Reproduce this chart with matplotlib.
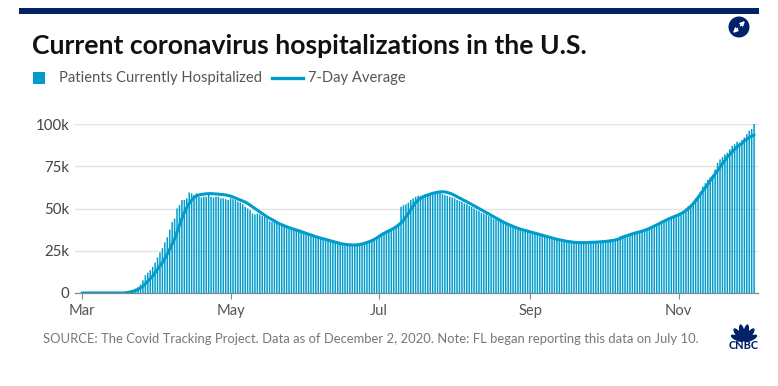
import numpy as np
import pandas as pd
import matplotlib
matplotlib.use('Agg')
import matplotlib.pyplot as plt
import matplotlib.dates as mdates
from matplotlib.patches import Circle, Ellipse, Rectangle

# patients currently hospitalized, thousands, one value per day from Mar 1
hosp_mar = [0] * 15 + [.05, .1, .2, .4, .8, 1.3, 1.9, 2.6, 3.4, 5, 7.5, 10.5, 12, 13.5, 15.5, 18]
hosp_apr = [21, 24, 26.5, 30, 33, 37.5, 42, 44, 50, 52, 55, 55, 56, 59.5, 59, 58, 59, 57, 56.5, 57,
            57, 58, 57, 56.5, 57, 57, 56, 56, 55.5, 55]
hosp_may = [56, 55.5, 55, 54, 53.5, 52.5, 51, 50, 49, 47, 46.5, 47, 46.5, 45.5, 45, 44, 42.5, 42, 42, 41.5,
            41.5, 40.5, 39.5, 38.5, 38, 37.5, 37.5, 38, 37.5, 37, 36.5]
hosp_jun = [36, 35.5, 35, 34.5, 34, 33.5, 33, 32.5, 32.5, 32, 31.5, 31, 30.5, 30.5, 30, 29.5, 29, 28.5, 28.5, 28,
            28, 28, 28.5, 29, 29.5, 30, 30.5, 31, 32, 33]
hosp_jul = [34, 35, 36, 37, 37.5, 38, 39, 39.5, 41, 51, 52, 52.5, 53.5, 55, 56, 57, 57.5, 57.5, 58, 58.5,
            58.5, 59, 59, 59, 59, 59.5, 58.5, 58, 57.5, 57, 56.5]
hosp_aug = [56, 55, 54.5, 54, 53, 52.5, 51.5, 51, 50, 49, 48.5, 47.5, 47, 46.5, 45.5, 45, 44, 43.5, 43, 42,
            41.5, 41, 40.5, 40, 39.5, 39, 38.5, 38, 37.5, 37, 36.5]
hosp_sep = [36, 35.5, 35, 34.5, 34.5, 34, 33.5, 33.5, 33, 32.5, 32.5, 32, 31.5, 31.5, 31, 31, 30.5, 30.5, 30, 30,
            30, 29.8, 29.8, 29.5, 29.5, 29.5, 29.5, 29.5, 30, 30]
hosp_oct = [30, 30.5, 30.5, 31, 31, 31.5, 32.5, 33.5, 34, 34.5, 34.5, 34.5, 35, 36, 36.5, 36.5, 37, 37.5, 38, 38.5,
            39.5, 40, 40, 41, 42, 42.5, 43, 44, 45, 45.5, 46]
hosp_nov = [46.5, 47, 48, 50, 51.5, 52.5, 54, 56, 57.5, 60, 63, 65, 67, 68.5, 69.5, 73, 77, 79, 80.5, 82,
            83, 85, 87, 88, 89.5, 89, 90.5, 92, 94, 96]
hosp_dec = [97, 100]

# 7-day average
avg_mar = [0] * 18 + [.2, .4, .7, 1, 1.5, 2.2, 3, 4, 5.5, 7, 8.5, 10, 12]
avg_apr = [14, 16, 18, 20.5, 23, 26, 29, 32, 36, 40, 44, 47.5, 50.5, 53, 55, 56.5, 57.5, 58, 58.3, 58.5,
           58.7, 58.8, 58.8, 58.7, 58.6, 58.5, 58.3, 58.2, 58, 57.7]
avg_may = [57.3, 56.8, 56.2, 55.6, 55, 54.4, 53.8, 53, 52, 51, 50, 49, 48, 47, 46, 45, 44.2, 43.4, 42.6, 41.8,
           41, 40.4, 39.8, 39.2, 38.7, 38.2, 37.7, 37.2, 36.8, 36.3, 35.8]
avg_jun = [35.3, 34.8, 34.3, 33.8, 33.3, 32.9, 32.5, 32.1, 31.7, 31.3, 30.9, 30.5, 30.1, 29.7, 29.3, 29, 28.8, 28.6, 28.5, 28.4,
           28.4, 28.5, 28.7, 29, 29.4, 29.9, 30.4, 31, 31.7, 32.5]
avg_jul = [33.5, 34.5, 35.3, 36, 36.7, 37.5, 38.3, 39.2, 40.3, 41.5, 43, 45, 47, 49.5, 51.5, 53.5, 55, 56, 56.8, 57.5,
           58, 58.5, 59, 59.3, 59.6, 59.8, 59.9, 59.8, 59.5, 59, 58.5]
avg_aug = [57.8, 57, 56.2, 55.5, 54.7, 54, 53.2, 52.4, 51.6, 50.8, 50, 49.2, 48.4, 47.6, 46.8, 46, 45.2, 44.4, 43.6, 42.8,
           42, 41.3, 40.6, 40, 39.4, 38.8, 38.3, 37.8, 37.4, 37, 36.6]
avg_sep = [36.2, 35.8, 35.4, 35, 34.6, 34.2, 33.8, 33.4, 33, 32.6, 32.2, 31.8, 31.5, 31.2, 30.9, 30.6, 30.4, 30.2, 30, 29.9,
           29.8, 29.8, 29.8, 29.8, 29.9, 30, 30, 30.1, 30.2, 30.3]
avg_oct = [30.4, 30.5, 30.7, 30.9, 31.1, 31.4, 31.8, 32.3, 32.9, 33.5, 34, 34.5, 35, 35.4, 35.8, 36.2, 36.6, 37.1, 37.6, 38.2,
           38.9, 39.6, 40.3, 41, 41.8, 42.5, 43.2, 43.9, 44.5, 45.1, 45.7]
avg_nov = [46.3, 47, 47.8, 48.8, 50, 51.3, 52.8, 54.6, 56.5, 58.5, 60.5, 62.5, 64.5, 66.5, 68.5, 70.5, 72.5, 74.5, 76.5, 78.5,
           80.5, 82, 83.5, 85, 86.5, 87.5, 88.5, 90, 91, 92]
avg_dec = [92.8, 93.5]

y_ticks = [0, 25, 50, 75, 100]
y_labels = ['0', '25k', '50k', '75k', '100k']

hosp = hosp_mar + hosp_apr + hosp_may + hosp_jun + hosp_jul + hosp_aug + hosp_sep + hosp_oct + hosp_nov + hosp_dec
avg = avg_mar + avg_apr + avg_may + avg_jun + avg_jul + avg_aug + avg_sep + avg_oct + avg_nov + avg_dec
days = pd.date_range('2020-03-01', periods=len(hosp))

W, H = 778, 386
BLUE = '#009ccb'
NAVY = '#012169'
plt.rcParams['font.family'] = ['Lato', 'DejaVu Sans']

fig = plt.figure(figsize=(W / 100, H / 100), dpi=100)

# chart area
ax = fig.add_axes([75 / W, 1 - 293 / H, 683 / W, 169 / H])
bars = ax.bar(days, hosp, width=0.62, color=BLUE, linewidth=0, zorder=3)
for b in bars:
    b.set_snap(False)  # let the thin bars blur like the original instead of jumping between pixels
ax.plot(days, avg, color=BLUE, lw=2.2, zorder=4, solid_capstyle='round')
ax.set_xlim(pd.Timestamp('2020-03-01') - pd.Timedelta(days=2.9), pd.Timestamp('2020-03-01') + pd.Timedelta(days=277.6))
ax.set_ylim(0, 100)
ax.set_yticks(y_ticks)
ax.set_yticklabels(y_labels, fontsize=10.8, color='#444444')
ax.xaxis.set_major_locator(mdates.MonthLocator(bymonth=[3, 5, 7, 9, 11]))
ax.xaxis.set_major_formatter(mdates.DateFormatter('%b'))
ax.tick_params(axis='x', length=4, width=0.8, color='#888888', labelsize=10.6, labelcolor='#555555', pad=4)
ax.tick_params(axis='y', length=0, pad=4)
ax.grid(axis='y', color='#e2e2e2', lw=1, zorder=0)
ax.set_axisbelow(True)
for s in ['top', 'right', 'left']:
    ax.spines[s].set_visible(False)
ax.spines['bottom'].set_color('#888888')
ax.spines['bottom'].set_linewidth(0.9)

# page furniture, in pixel coordinates
page = fig.add_axes([0, 0, 1, 1], zorder=5)
page.set_xlim(0, W)
page.set_ylim(H, 0)
page.axis('off')
page.patch.set_alpha(0)

page.add_patch(Rectangle((19, 8), 740, 6, color=NAVY, lw=0))
page.text(32, 46, 'Current coronavirus hospitalizations in the U.S.', fontsize=19.05, fontweight='bold',
          color='#111111', va='center')

page.add_patch(Rectangle((33, 72), 12, 12, color=BLUE, lw=0))
page.text(59, 78, 'Patients Currently Hospitalized', fontsize=10.6, color='#555555', va='center')
page.plot([272, 303], [78, 78], color=BLUE, lw=2.4)
page.text(308, 78, '7-Day Average', fontsize=10.6, color='#555555', va='center')

page.text(43, 339, 'SOURCE: The Covid Tracking Project. Data as of December 2, 2020. Note: FL began reporting this data on July 10.',
          fontsize=9.34, color='#777777', va='center')

# expand button
page.add_patch(Circle((739, 27), 10.5, color=NAVY, lw=0))
page.annotate('', xy=(745, 21), xytext=(740.5, 25.5), arrowprops=dict(arrowstyle='->', color='white', lw=1.2, mutation_scale=6, shrinkA=0, shrinkB=0))
page.annotate('', xy=(733, 33), xytext=(737.5, 28.5), arrowprops=dict(arrowstyle='->', color='white', lw=1.2, mutation_scale=6, shrinkA=0, shrinkB=0))

# peacock, petals fan out from one point above the wordmark
for ang, ln, wd in [(-65, 14, 5), (-38, 16, 5.5), (-12, 17, 5.5), (12, 17, 5.5), (38, 16, 5.5), (65, 14, 5)]:
    r = ln / 2 + 0.5
    cx = 744 + r * np.sin(np.radians(ang))
    cy = 341.5 - r * np.cos(np.radians(ang))
    page.add_patch(Ellipse((cx, cy), wd, ln, angle=ang, color=NAVY, lw=0))
page.text(744, 345.5, 'CNBC', fontsize=7.8, fontweight='black', color=NAVY, ha='center', va='center')

fig.savefig('out.png', dpi=100)
